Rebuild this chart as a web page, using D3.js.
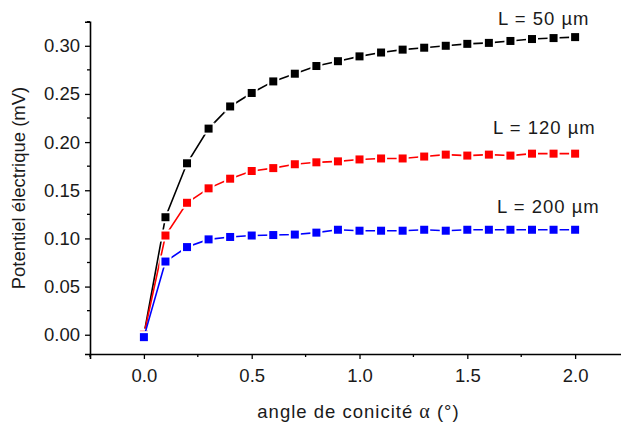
<!DOCTYPE html>
<html>
<head>
<meta charset="utf-8">
<script src="https://d3js.org/d3.v7.min.js"></script>
<style>
  body { margin: 0; background: #fff; }
  text { font-family: "Liberation Sans", Arial, sans-serif; fill: #1a1a1a; }
</style>
</head>
<body>
<svg width="621" height="428"></svg>
<script>
// angles (deg)
const angles = [0, 0.1, 0.2, 0.3, 0.4, 0.5, 0.6, 0.7, 0.8, 0.9, 1.0,
                1.1, 1.2, 1.3, 1.4, 1.5, 1.6, 1.7, 1.8, 1.9, 2.0];
// potentiel (mV) per length
const l50  = [0.000, 0.122, 0.178, 0.214, 0.237, 0.251, 0.263, 0.271, 0.279, 0.284, 0.289,
              0.293, 0.296, 0.298, 0.300, 0.302, 0.303, 0.305, 0.307, 0.308, 0.309];
const l120 = [0.000, 0.103, 0.137, 0.152, 0.162, 0.170, 0.173, 0.177, 0.179, 0.180, 0.182,
              0.183, 0.183, 0.185, 0.187, 0.186, 0.187, 0.186, 0.188, 0.188, 0.188];
const l200 = [-0.0025, 0.076, 0.091, 0.099, 0.1015, 0.103, 0.1035, 0.104, 0.106, 0.109, 0.108,
              0.108, 0.108, 0.109, 0.108, 0.109, 0.109, 0.109, 0.109, 0.109, 0.109];
const seriesNames = ["L = 50 µm", "L = 120 µm", "L = 200 µm"];
const seriesColors = ["#000000", "#ff0000", "#0000ff"];
const xTicks = [0, 0.5, 1.0, 1.5, 2.0];
const yTicks = [0, 0.05, 0.10, 0.15, 0.20, 0.25, 0.30];

const svg = d3.select("svg");
const x = d3.scaleLinear().domain([-0.25, 2.3]).range([90, 639.8]);
const y = d3.scaleLinear().domain([-0.02, 0.325]).range([354, 21.7]);

// axes
const xMinor = d3.range(-0.25, 2.3, 0.25).filter(v => !xTicks.some(t => Math.abs(t - v) < 1e-6));
const yMinor = d3.range(-0.025, 0.33, 0.025).filter(v => v >= -0.02 && !yTicks.some(t => Math.abs(t - v) < 1e-6));

const gx = svg.append("g").attr("transform", "translate(0,354)");
gx.call(d3.axisBottom(x).tickValues(xTicks).tickFormat(d3.format(".1f")).tickSizeOuter(0).tickSize(5).tickPadding(10));
gx.append("g").selectAll("line").data(xMinor).join("line")
  .attr("x1", d => x(d)).attr("x2", d => x(d)).attr("y1", 0).attr("y2", 3)
  .attr("stroke", "#000").attr("stroke-width", 1.3);

const gy = svg.append("g").attr("transform", "translate(90,0)");
gy.call(d3.axisLeft(y).tickValues(yTicks).tickFormat(d3.format(".2f")).tickSizeOuter(0).tickSize(5).tickPadding(5));
gy.append("g").selectAll("line").data(yMinor).join("line")
  .attr("y1", d => y(d)).attr("y2", d => y(d)).attr("x1", 0).attr("x2", -3)
  .attr("stroke", "#000").attr("stroke-width", 1.3);

[gx, gy].forEach(g => {
  g.select(".domain").attr("stroke", "#000").attr("stroke-width", 1.6);
  g.selectAll(".tick line").attr("stroke", "#000").attr("stroke-width", 1.3);
  g.selectAll(".tick text").attr("font-size", 18.5).attr("fill", "#1a1a1a")
    .attr("font-family", "Liberation Sans, Arial, sans-serif");
});

// series
const seriesData = [l50, l120, l200];
const line = d3.line().x((d, i) => x(angles[i])).y(d => y(d));
seriesData.forEach((vals, k) => {
  const g = svg.append("g");
  g.append("path").datum(vals).attr("d", line)
    .attr("fill", "none").attr("stroke", seriesColors[k]).attr("stroke-width", 1.6);
  g.selectAll("rect.halo").data(vals).join("rect").attr("class", "halo")
    .attr("x", (d, i) => x(angles[i]) - 6).attr("y", d => y(d) - 6)
    .attr("width", 12).attr("height", 12).attr("fill", "#fff");
  g.selectAll("rect.mk").data(vals).join("rect").attr("class", "mk")
    .attr("x", (d, i) => x(angles[i]) - 4).attr("y", d => y(d) - 4)
    .attr("width", 8).attr("height", 8).attr("fill", seriesColors[k]);
});

// labels
const labelPos = [[498, 25], [493, 134], [497, 212.5]];
seriesNames.forEach((n, k) => {
  svg.append("text").attr("x", labelPos[k][0]).attr("y", labelPos[k][1])
    .attr("font-size", 18.5).attr("letter-spacing", 1).text(n);
});

// axis titles
const xt = svg.append("text").attr("x", 358.5).attr("y", 418).attr("text-anchor", "middle")
  .attr("font-size", 18.5).attr("letter-spacing", 1);
xt.append("tspan").text("angle de conicité ");
xt.append("tspan").attr("font-family", "Liberation Serif, serif").attr("font-size", 20).text("α");
xt.append("tspan").text(" (°)");

svg.append("text").attr("transform", "translate(25,188) rotate(-90)")
  .attr("text-anchor", "middle").attr("font-size", 18.5).text("Potentiel électrique (mV)");
</script>
</body>
</html>
